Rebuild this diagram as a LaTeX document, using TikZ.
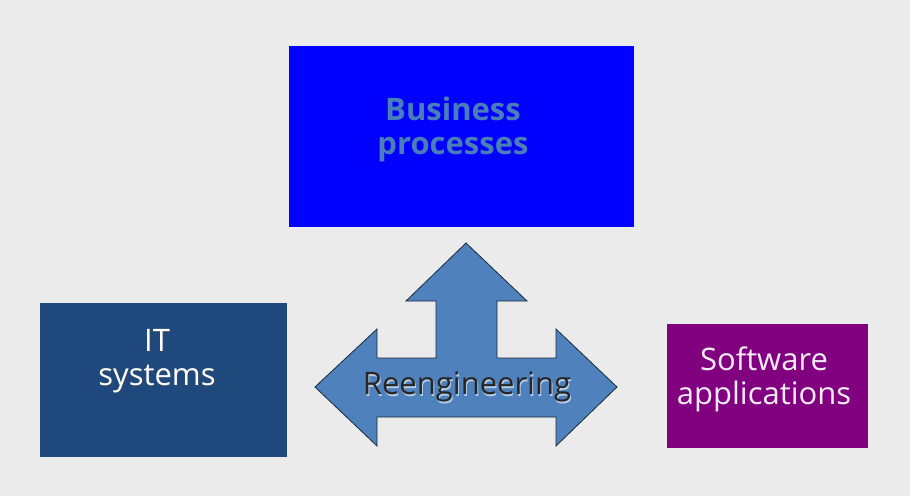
\documentclass[tikz,border=0pt]{standalone}
\usepackage{fontspec}
\setmainfont{Open Sans}
\definecolor{bgc}{HTML}{EBEBEB}
\definecolor{bpblue}{HTML}{0000FF}
\definecolor{bptext}{HTML}{4A7EBB}
\definecolor{itblue}{HTML}{1F497D}
\definecolor{swpurple}{HTML}{800080}
\definecolor{arrowblue}{HTML}{4F81BD}
\definecolor{arrowline}{HTML}{1A2A3A}
\begin{document}
\begin{tikzpicture}[x=1pt,y=1pt,
  boxstyle/.style={draw=none,inner sep=0pt,anchor=center},
  labelstyle/.style={align=center,font=\fontsize{31}{34}\selectfont,inner sep=0pt},
  arrowshape/.style={fill=arrowblue,draw=arrowline,line width=0.8pt,line join=miter}]
\fill[bgc] (0,0) rectangle (910,496);
\useasboundingbox (0,0) rectangle (910,496);
% boxes
\node[boxstyle,fill=bpblue,minimum width=345,minimum height=181] (bp) at (461.5,359.5) {};
\node[boxstyle,fill=itblue,minimum width=247,minimum height=154] (it) at (163.5,116) {};
\node[boxstyle,fill=swpurple,minimum width=201,minimum height=124] (sw) at (767.5,110) {};
% arrow
\draw[arrowshape] (466,253) -- (527,195) -- (497,195) -- (497,138) -- (556,138) -- (556,167)
  -- (617,109) -- (556,50) -- (556,79) -- (377,79) -- (377,50) -- (315,109) -- (377,167)
  -- (377,138) -- (436,138) -- (436,195) -- (406,195) -- cycle;
\coordinate (re) at (467,109);
% labels
\node[labelstyle,text=bptext,font=\fontsize{31}{34}\selectfont\bfseries] (bpl) at (453,367) {Business\\processes};
\node[labelstyle,text=black!40!gray,opacity=0.5] at (158,133.5) {IT\\systems};
\node[labelstyle,text=white] (itl) at (157,135) {IT\\systems};
\node[labelstyle,text=white!92!swpurple] (swl) at (764,117) {Software\\applications};
\node[labelstyle,text=white,opacity=0.6] at (468,107.5) {Reengineering};
\node[labelstyle,text=black!85] (rel) at (re) {Reengineering};
\end{tikzpicture}
\end{document}
